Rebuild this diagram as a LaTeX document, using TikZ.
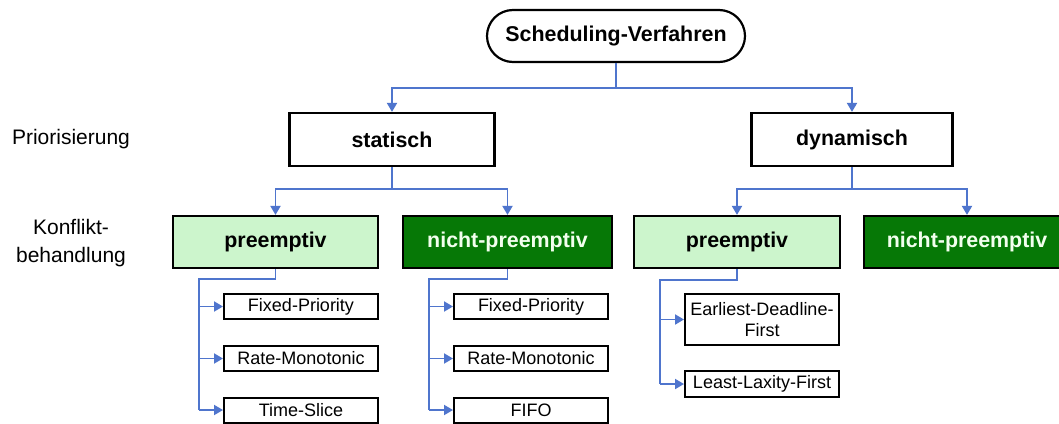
\documentclass[tikz,border=0pt]{standalone}
\usepackage{fontspec}
\setmainfont{Liberation Sans}
\usetikzlibrary{arrows.meta}
\definecolor{conncol}{HTML}{4F75CD}
\definecolor{lightgr}{HTML}{CCF5CC}
\definecolor{darkgr}{HTML}{067806}
\definecolor{paletxt}{HTML}{F2FFEE}
\tikzset{
  big/.style={font=\fontsize{21.4}{26}\selectfont\bfseries},
  small/.style={font=\fontsize{18}{21}\selectfont},
  lvlbox/.style={draw=black, line width=2.2pt, big, minimum height=53pt, inner sep=0pt},
  lightbox/.style={lvlbox, fill=lightgr, minimum height=52pt},
  darkbox/.style={lvlbox, fill=darkgr, text=paletxt, minimum height=52pt},
  leaf/.style={draw=black, line width=2pt, small, minimum width=154pt, minimum height=25pt, inner sep=0pt, align=center},
  conn/.style={draw=conncol, line width=1.9pt},
  arr/.style={conn, -{Triangle[width=10pt,length=9pt]}},
  lbl/.style={font=\fontsize{21}{28}\selectfont, align=center}
}
\begin{document}
\begin{tikzpicture}[x=1pt,y=-1pt]
\clip (0,0) rectangle (1059,423);
\fill[white] (0,0) rectangle (1059,423);
% root
\node[draw=black, line width=2.2pt, rounded corners=26pt, big, minimum width=258pt, minimum height=52pt, inner sep=0pt] (root) at (616,36) {Scheduling-Verfahren};
% level 1
\node[lvlbox, minimum width=205pt] (stat) at (392,139.5) {statisch};
\node[lvlbox, minimum width=201pt] (dyn) at (852,139.5) {dynamisch};
% level 2
\node[lightbox, minimum width=205pt] (p1) at (275.5,242) {preemptiv};
\node[darkbox, minimum width=209pt] (n1) at (507.5,242) {nicht-preemptiv};
\node[lightbox, minimum width=206pt] (p2) at (737,242) {preemptiv};
\node[darkbox, minimum width=206pt] (n2) at (967,242) {nicht-preemptiv};
% leaves
\node[leaf] (fp1) at (301,306.5) {Fixed-Priority};
\node[leaf] (rm1) at (301,358.5) {Rate-Monotonic};
\node[leaf] (ts1) at (301,410) {Time-Slice};
\node[leaf] (fp2) at (531,306.5) {Fixed-Priority};
\node[leaf] (rm2) at (531,358.5) {Rate-Monotonic};
\node[leaf] (fifo) at (531,410) {FIFO};
\node[leaf, minimum height=51pt] (edf) at (762,319.5) {Earliest-Deadline-\\First};
\node[leaf, minimum height=26pt] (llf) at (762,384) {Least-Laxity-First};
% labels
\node[lbl] (prio) at (71,139) {Priorisierung};
\node[lbl] (konf) at (71,243) {Konflikt-\\behandlung};
% connectors level 0->1
\coordinate (j1) at (616,88);
\draw[conn] (root.south) -- (j1);
\draw[arr] (j1) -| (stat.north);
\draw[arr] (j1) -| (dyn.north);
% level 1->2
\coordinate (j2) at (392,189);
\draw[conn] (stat.south) -- (j2);
\draw[arr] (j2) -| (p1.north);
\draw[arr] (j2) -| (n1.north);
\coordinate (j3) at (852,189);
\draw[conn] (dyn.south) -- (j3);
\draw[arr] (j3) -| (p2.north);
\draw[arr] (j3) -| (n2.north);
% level 2->3 left
\coordinate (b1) at (199,279);
\coordinate (b1e) at (199,410);
\draw[conn] (p1.south) |- (b1) -- (b1e);
\draw[arr] (b1 |- fp1.west) -- (fp1.west);
\draw[arr] (b1 |- rm1.west) -- (rm1.west);
\draw[arr] (b1e) -- (ts1.west);
% level 2->3 middle
\coordinate (b2) at (429,279);
\coordinate (b2e) at (429,410);
\draw[conn] (n1.south) |- (b2) -- (b2e);
\draw[arr] (b2 |- fp2.west) -- (fp2.west);
\draw[arr] (b2 |- rm2.west) -- (rm2.west);
\draw[arr] (b2e) -- (fifo.west);
% level 2->3 right
\coordinate (b3) at (660,280);
\coordinate (b3e) at (660,384);
\draw[conn] (p2.south) |- (b3) -- (b3e);
\draw[arr] (b3 |- edf.west) -- (edf.west);
\draw[arr] (b3e) -- (llf.west);
\end{tikzpicture}
\end{document}
